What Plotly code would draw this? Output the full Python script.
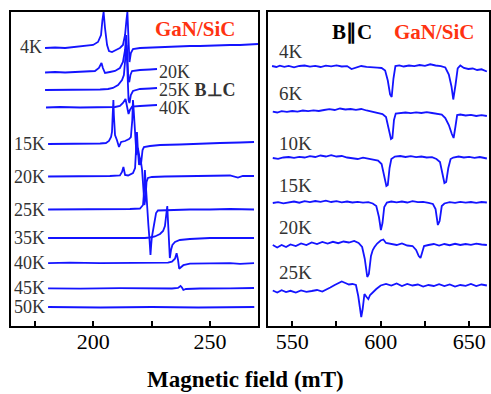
import plotly.graph_objects as go

# ---------------- LEFT PANEL (B perpendicular to c) ----------------
# field in mT, signal in arbitrary units (up = positive)
l_4k_top_f = [179.3,183.6,187.9,192.1,196.4,199.9,202.0,203.3,203.9,204.4,205.0,205.9,206.7,208.0,209.7,211.4,212.7,213.6,214.2,214.6,215.1,215.5,216.1,217.0,220.0,224.3,228.6,232.9,237.1,241.4,245.7,250.0,254.3,258.6,262.9,267.1,270.6]
l_4k_top_s = [-1,-0.5,-1,0,0.5,2,5,12,27,35,19,2,-4,-5,-3,-1,2,12,27,35,7,-15,-6,-2,-1,-0.5,0,0.5,0.5,1,1,1.5,1.5,2,2,2.5,3]

l_20k_top_f = [179.3,183.6,187.9,192.1,196.4,200.7,202.4,203.5,204.1,205.0,207.1,209.3,211.4,212.7,213.6,214.1,214.6,215.0,215.4,215.9,216.6,220.0,224.3,227.3]
l_20k_top_s = [-0.5,0,-0.5,0,0,1,4,9,4,-1,0,1,4,10,22,37,17,-8,-10,-3,1,2,2.5,3]

l_25k_top_f = [179.3,185.7,194.3,202.9,206.3,208.4,210.6,212.3,213.1,213.8,214.2,214.6,215.1,215.5,216.1,217.0,220.0,224.3,227.3]
l_25k_top_s = [0,0,0,0.5,1,2,5,10,15,30,45,20,-10,-13,-5,-1,1,1.5,2]

l_40k_top_f = [179.7,185.7,194.3,202.9,209.3,211.4,212.7,213.8,214.4,215.1,215.7,216.6,220.0,224.3,227.3]
l_40k_top_s = [0,0.5,0,0.5,0.5,1.5,4.5,8.5,2.5,-6.5,-2.5,1,1.5,2,2.5]

l_15k_f = [180.6,185.7,194.3,202.9,205.4,206.7,207.6,208.0,208.3,208.6,208.8,209.3,210.1,211.0,211.9,213.6,215.3,216.1,216.7,217.0,217.3,217.9,218.5,219.1,219.8,220.4,221.1,221.7,224.3,228.6,237.1,245.7,254.3,262.9,268.9]
l_15k_s = [0,0,0,0.5,1,3,7,12,29,44,29,9,4,-3,2,3,5,7,24,44,34,4,-11,-4,-16,-21,-6,-3,-2,-1,-0.5,0.5,1,1.5,2]

l_20k_f = [180.6,190.0,198.6,207.1,211.4,212.3,212.9,213.6,214.9,217.0,217.9,218.4,218.7,219.1,219.6,220.2,220.9,221.5,221.9,222.4,222.8,223.4,225.1,230.7,241.4,250.0,258.6,262.0,264.1,268.9]
l_20k_s = [0,0,0,0.5,1,4.5,9.5,1.5,1,3.5,8.5,26.5,44.5,26.5,11.5,18.5,6.5,-13.5,-28.5,-21.5,-5.5,-1.5,-0.5,0,0.5,0.5,1,-1,0.5,0.5]

l_25k_f = [180.6,190.0,202.9,215.7,220.0,221.3,221.8,222.1,222.5,222.8,223.2,223.6,224.1,224.5,224.8,225.1,226.0,226.9,227.7,232.9,241.4,250.0,258.6,268.9]
l_25k_s = [0,0,0,0.5,1,4.5,19.5,39.5,24.5,9.5,-5.5,-15.5,-30.5,-45.5,-35.5,-27.5,-15.5,-3.5,-1,-0.5,0,0,0.5,0]

l_35k_f = [180.6,190.0,202.9,215.7,222.1,224.3,226.4,228.6,229.9,230.7,231.3,231.7,232.1,232.4,232.8,233.3,233.9,235.0,237.1,241.4,250.0,258.6,268.9]
l_35k_s = [0,0,0,-0.5,0,0.5,1.5,4,7,12,23,32,13,-7,-20,-12,-7,-4,-2,-1,0,0,0]

l_40k_f = [180.6,190.0,202.9,215.7,228.6,232.0,233.7,235.0,235.7,236.3,236.8,237.6,238.6,241.4,250.0,258.6,262.9,268.9]
l_40k_s = [-0.2,0.3,-0.2,0.3,0.3,0.3,1.3,4.3,9.8,3.3,-5.7,-4.2,-2.2,-0.7,-0.2,-0.2,-0.9,-0.2]

l_45k_f = [180.6,194.3,211.4,228.6,233.7,236.3,237.4,238.0,238.6,239.7,245.7,258.6,268.9]
l_45k_s = [0,-0.3,0.2,-0.3,-0.2,0.3,2.3,0.8,-1.7,-0.7,-0.2,0,0.3]

l_50k_f = [180.6,203.0,225.0,245.0,269.0]
l_50k_s = [0.3,-0.2,0.3,-0.2,0.3]

left_fields = [l_4k_top_f, l_20k_top_f, l_25k_top_f, l_40k_top_f,
               l_15k_f, l_20k_f, l_25k_f, l_35k_f, l_40k_f, l_45k_f, l_50k_f]
left_signals = [l_4k_top_s, l_20k_top_s, l_25k_top_s, l_40k_top_s,
                l_15k_s, l_20k_s, l_25k_s, l_35k_s, l_40k_s, l_45k_s, l_50k_s]
left_offsets = [279, 254, 236, 218.5, 182, 149.5, 116.5, 88, 63, 37.7, 18.7]

left_labels_a = ["4K", "15K", "20K", "25K", "35K", "40K", "45K", "50K"]   # right-aligned before trace
left_labels_a_idx = [0, 4, 5, 6, 7, 8, 9, 10]
left_labels_b = ["20K", "25K <b>B⊥C</b>", "40K"]                            # after short traces
left_labels_b_idx = [1, 2, 3]

# ---------------- RIGHT PANEL (B parallel to c) ----------------
r_4k_f = [538.6,541,543,545.5,548,551,554,557,560,563,566,569,572,575,578,581,583.5,586,589,592,595,598,600.5,602.5,604,605.3,606.2,607.2,608.3,610.5,613,616,619,622,625,628,631,634,636.5,638.5,640,641,642.3,643.5,645,647,649.5,652,654.5,657,660]
r_4k_s = [0.5,-0.5,0.8,-0.3,0.6,-0.8,0.5,1.0,-0.2,0.7,-0.5,0.9,0.2,1.2,0.0,0.4,-2.5,-1.0,0.5,-0.3,-1.0,-1.2,-1.5,-4,-14,-28,-30.5,-12,0.5,1.2,0.0,1.0,0.3,1.5,0.6,2.2,1.0,0.4,-1.0,-8,-20,-33,-18,-2,1.0,-1.5,-2.5,-2.0,-3.5,-2.8,-5]

r_6k_f = [539,541.5,544,547,550,553,556,559,562,565,568,571,574,577,580,583,586,589,592,595,598,601,603,604.5,605.8,606.6,607.5,608.5,611,614,617,620,623,626,629,632,634.5,636.5,638.5,640.2,641.2,642.2,643.2,645,648,651,654,657,660]
r_6k_s = [0.3,-0.5,0.8,0.2,1.0,0.4,1.5,0.8,1.6,1.0,2.0,2.8,2.0,3.5,2.5,3.0,2.2,3.0,1.5,0.5,-0.5,-2.0,-5,-16,-27,-26,-8,-1.5,-1.0,-0.5,-1.2,-0.3,-1.0,-0.2,-1.0,-1.5,-2.5,-6,-13,-22,-26,-15,-3,-2.5,-3.5,-2.8,-4,-3.2,-4]

r_10k_f = [539,542,545,548,551,554,557,560,563,566,569,572,575,578,581,584,587,590,593,596,598.5,600.5,602,603.2,604,605,606,608,611,614,617,620,623,626,629,631.5,633.5,634.8,636,637,638.2,639.5,641,644,647,650,653,656,660]
r_10k_s = [0.0,-0.8,0.5,1.0,0.2,1.2,0.5,1.8,1.0,2.5,1.5,2.8,1.5,2.0,0.5,-0.5,-1.0,0.3,-0.8,-1.5,-2.5,-6,-18,-28,-27,-10,-1.0,1.5,2.0,1.0,1.8,0.8,1.5,0.5,0.8,-1.0,-4,-14,-25,-24,-10,-1,0.5,1.5,0.5,1.2,0.2,1.0,-0.5]

r_15k_f = [539,542,545,548,551,554,557,560,563,566,569,572,575,578,581,584,587,590,593,595.5,597.5,599,600.1,601,602,603.5,606,609,612,615,618,621,624,627,629.5,631,632.3,633.3,634.5,636,639,642,645,648,651,654,657,660]
r_15k_s = [0.0,0.8,-0.3,0.5,1.5,0.3,1.8,0.8,2.0,1.2,2.3,1.0,1.8,0.6,1.5,0.5,1.2,0.3,0.8,-0.5,-3,-14,-27,-20,-4,0.5,1.5,0.6,1.5,0.5,1.8,0.8,1.2,0.2,-1.0,-6,-22,-18,-3,-0.5,0.8,0.2,1.2,0.3,1.0,0.2,1.0,0.5]

r_20k_f = [539,541.5,544,546.5,549,552,555,558,561,564,567,570,573,576,579,582,585,587.5,589.5,591,592.4,593.3,594.5,595.5,596.5,598,600,601.5,603,606,609,612,615,618,620,621.5,622.5,623.5,624.5,627,630,633,636,639,642,645,648,651,654,657,660]
r_20k_s = [-1.0,-3.5,-1.0,-3.0,-0.5,-2.0,0.5,-1.0,1.5,0.0,2.0,0.5,2.2,0.8,2.5,1.5,3.0,1.0,-3,-15,-33,-30,-12,-6,-3,0.5,3.5,4.5,1.0,0.0,-1.0,0.5,-1.5,-2.0,-6,-12,-14,-8,-2,-1.0,0.0,-1.5,0.0,-1.2,0.2,-1.0,0.0,-0.8,0.3,-0.5,-1.0]

r_25k_f = [539,541.5,544,546.5,549,552,555,558,561,564,567,569.5,571.5,574,576,578,580,582,584,586,587.3,588.3,589,589.8,590.8,592,593,594,595.5,597.5,600,603,606,609,612,615,618,621,624,627,630,633,636,639,642,645,648,651,654,657,660]
r_25k_s = [0.5,-1.5,0.8,-1.0,0.2,-1.5,0.5,-0.8,0.0,1.0,-0.5,1.5,3.5,6.0,8.0,9.5,8.0,6.5,7.0,6.0,-5,-20,-26,-18,-3,-6,-8,-4,-1,2,5.5,7.0,5.5,7.5,5.0,7.0,5.5,6.5,4.5,6.0,5.0,6.8,5.0,6.5,4.5,6.0,5.2,7.0,5.0,6.5,5.5]

right_fields = [r_4k_f, r_6k_f, r_10k_f, r_15k_f, r_20k_f, r_25k_f]
right_signals = [r_4k_s, r_6k_s, r_10k_s, r_15k_s, r_20k_s, r_25k_s]
right_offsets = [259.5, 214, 168, 123, 82, 35]
right_labels = ["4K", "6K", "10K", "15K", "20K", "25K"]
right_label_y = [274, 233, 183, 141, 99, 54]

left_ticks = [175, 200, 225, 250]
left_ticktext = ["", "200", "", "250"]
right_ticks = [550, 575, 600, 625, 650]
right_ticktext = ["550", "", "600", "", "650"]

LINE = "#1414ff"
LABEL = "#333333"
SERIF = "Liberation Serif"

fig = go.Figure()
for f, s, off in zip(left_fields, left_signals, left_offsets):
    fig.add_trace(go.Scatter(x=f, y=[v + off for v in s], mode="lines",
                             line=dict(color=LINE, width=1.8),
                             xaxis="x", yaxis="y", showlegend=False, hoverinfo="skip"))
for f, s, off in zip(right_fields, right_signals, right_offsets):
    fig.add_trace(go.Scatter(x=f, y=[v + off for v in s], mode="lines",
                             line=dict(color=LINE, width=1.8),
                             xaxis="x2", yaxis="y2", showlegend=False, hoverinfo="skip"))

ann = []
for txt, i in zip(left_labels_a, left_labels_a_idx):
    ann.append(dict(x=left_fields[i][0] - 0.4, y=left_offsets[i], xref="x", yref="y", text=txt,
                    xanchor="right", yanchor="middle", showarrow=False,
                    font=dict(family=SERIF, size=18, color=LABEL)))
for txt, i in zip(left_labels_b, left_labels_b_idx):
    ann.append(dict(x=left_fields[i][-1] + 0.3, y=left_offsets[i], xref="x", yref="y", text=txt,
                    xanchor="left", yanchor="middle", showarrow=False, borderpad=0,
                    font=dict(family=SERIF, size=18, color=LABEL)))
for txt, yy in zip(right_labels, right_label_y):
    ann.append(dict(x=541.4, y=yy, xref="x2", yref="y2", text=txt,
                    xanchor="left", yanchor="middle", showarrow=False,
                    font=dict(family=SERIF, size=19, color=LABEL)))
ann.append(dict(x=244.0, y=297, xref="x", yref="y", text="<b>GaN/SiC</b>", showarrow=False,
                font=dict(family=SERIF, size=21, color="#ff3311")))
ann.append(dict(x=583.8, y=294, xref="x2", yref="y2", text="<b>B∥C</b>", showarrow=False,
                font=dict(family=SERIF, size=21, color="black")))
ann.append(dict(x=630.4, y=294, xref="x2", yref="y2", text="<b>GaN/SiC</b>", showarrow=False,
                font=dict(family=SERIF, size=21, color="#ff3311")))
ann.append(dict(x=0.499, y=(394 - 379) / 394, xref="paper", yref="paper",
                text="<b>Magnetic field (mT)</b>", xanchor="center", yanchor="middle",
                showarrow=False, font=dict(family=SERIF, size=23, color="black")))

axis_common = dict(showline=True, mirror=True, linecolor="black", linewidth=2,
                   showgrid=False, zeroline=False)

fig.update_layout(
    width=491, height=394, margin=dict(l=0, r=0, t=0, b=0),
    paper_bgcolor="white", plot_bgcolor="white",
    xaxis=dict(domain=[11/491, 258/491], range=[164.7, 270.6], ticks="inside", ticklen=5,
               tickwidth=1.5, tickcolor="black", tickvals=left_ticks, ticktext=left_ticktext,
               ticklabelstandoff=-5,
               tickfont=dict(family=SERIF, size=22, color="black"), anchor="y", **axis_common),
    yaxis=dict(domain=[68/394, 382/394], range=[0, 314], showticklabels=False, ticks="",
               anchor="x", **axis_common),
    xaxis2=dict(domain=[268/491, 489/491], range=[536.3, 661.2], ticks="inside", ticklen=5,
                tickwidth=1.5, tickcolor="black", tickvals=right_ticks, ticktext=right_ticktext,
                ticklabelstandoff=-5,
                tickfont=dict(family=SERIF, size=22, color="black"), anchor="y2", **axis_common),
    yaxis2=dict(domain=[68/394, 382/394], range=[0, 314], showticklabels=False, ticks="",
                anchor="x2", **axis_common),
    annotations=ann,
)

fig.write_html("out.html")
